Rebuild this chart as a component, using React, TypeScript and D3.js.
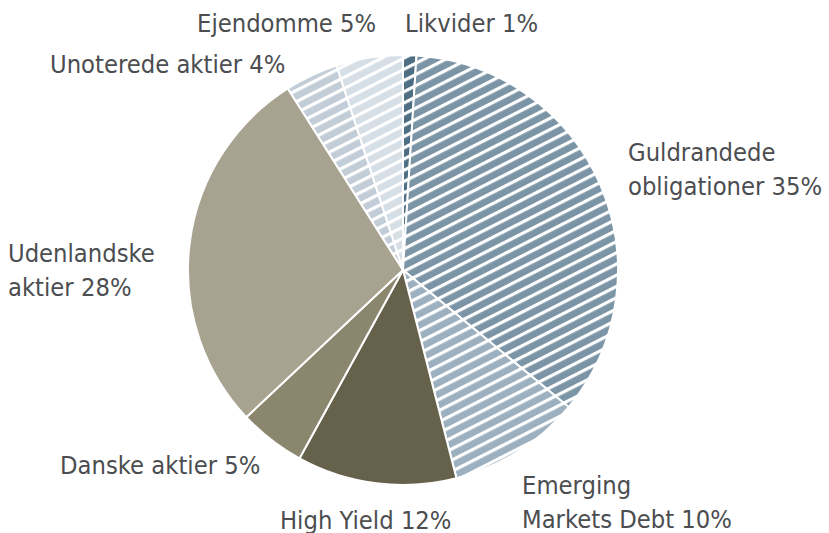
import React from "react";
import * as d3 from "d3";

const categories = [
  "Likvider",
  "Guldrandede obligationer",
  "Emerging Markets Debt",
  "High Yield",
  "Danske aktier",
  "Udenlandske aktier",
  "Unoterede aktier",
  "Ejendomme",
];
const values = [1, 35, 10, 12, 5, 28, 4, 5];
const labelLines = [
  ["Likvider 1%"],
  ["Guldrandede", "obligationer 35%"],
  ["Emerging", "Markets Debt 10%"],
  ["High Yield 12%"],
  ["Danske aktier 5%"],
  ["Udenlandske", "aktier 28%"],
  ["Unoterede aktier 4%"],
  ["Ejendomme 5%"],
];
const colors = ["#4e6e83", "#7b95a6", "#9db0bf", "#66614a", "#8b876f", "#a8a390", "#c2cdd7", "#d6dee6"];
const striped = [true, true, true, false, false, false, true, true];

const W = 829;
const H = 533;
const cx = 403;
const cy = 270;
const R = 215;

// label anchor positions (layout, not data)
const labelPos: [number, number][] = [
  [405, 32],
  [628, 161],
  [522, 494],
  [280, 529],
  [60, 474],
  [8, 262],
  [50, 73],
  [197, 32],
];
const lineH = 34;

export default function App() {
  const data = categories.map((c, i) => ({ c, v: values[i], i }));
  const pie = d3.pie<any>().value((d) => d.v).sort(null).startAngle(0).endAngle(2 * Math.PI);
  const arc = d3.arc<any>().innerRadius(0).outerRadius(R);
  const arcs = pie(data);
  return (
    <svg width={W} height={H} style={{ position: "absolute", left: 0, top: 0, background: "#fff" }}>
      <defs>
        {colors.map((col, i) => (
          <pattern
            key={i}
            id={`p${i}`}
            patternUnits="userSpaceOnUse"
            width={20}
            height={10}
            patternTransform="rotate(-27)"
          >
            <rect x={0} y={0} width={20} height={10} fill={col} />
            <rect x={0} y={0} width={20} height={3.2} fill="#ffffff" />
          </pattern>
        ))}
      </defs>
      <g transform={`translate(${cx},${cy})`}>
        {arcs.map((a, i) => (
          <path
            key={i}
            d={arc(a) as string}
            fill={striped[i] ? `url(#p${i})` : colors[i]}
            stroke="#ffffff"
            strokeWidth={2}
            strokeLinejoin="round"
          />
        ))}
      </g>
      <g
        fontFamily="'Liberation Sans Narrow', 'DejaVu Sans Condensed', 'Noto Sans', sans-serif"
        fontSize={25.3}
        fill="#4b4d50"
      >
        {labelLines.map((lines, i) => (
          <text key={i} x={labelPos[i][0]} y={labelPos[i][1]}>
            {lines.map((t, j) => (
              <tspan key={j} x={labelPos[i][0]} dy={j === 0 ? 0 : lineH}>
                {t}
              </tspan>
            ))}
          </text>
        ))}
      </g>
    </svg>
  );
}
